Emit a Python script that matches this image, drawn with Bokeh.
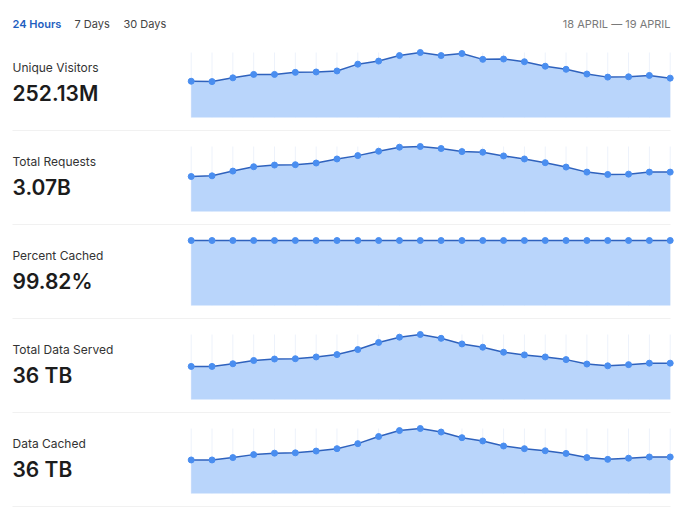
from bokeh.plotting import figure
from bokeh.layouts import column
from bokeh.models import Label, Range1d, BoxAnnotation
from bokeh.embed import file_html
from bokeh.resources import INLINE

hours = list(range(24))

visitors_m = [7.78, 7.70, 8.51, 9.24, 9.24, 9.68, 9.76, 9.98, 11.44, 12.10, 13.28, 13.94,
              13.28, 13.72, 12.47, 12.54, 11.96, 11.00, 10.34, 9.32, 8.66, 8.73, 9.02, 8.44]
requests_m = [91.7, 93.5, 105.9, 117.3, 121.7, 122.6, 127.0, 137.6, 146.4, 157.9, 168.5, 170.3,
              165.0, 157.0, 155.3, 145.6, 137.6, 127.9, 116.4, 103.2, 97.0, 97.9, 103.2, 103.2]
cached_pct = [99.82] * 24
served_tb = [1.12, 1.12, 1.21, 1.32, 1.37, 1.38, 1.44, 1.52, 1.69, 1.93, 2.11, 2.20,
             2.07, 1.88, 1.77, 1.60, 1.51, 1.44, 1.35, 1.20, 1.14, 1.18, 1.23, 1.23]
data_cached_tb = [1.13, 1.13, 1.21, 1.31, 1.36, 1.37, 1.43, 1.51, 1.68, 1.92, 2.12, 2.19,
                  2.07, 1.88, 1.77, 1.60, 1.51, 1.44, 1.35, 1.21, 1.15, 1.19, 1.23, 1.23]

titles = ["Unique Visitors", "Total Requests", "Percent Cached", "Total Data Served", "Data Cached"]
totals = ["252.13M", "3.07B", "99.82%", "36 TB", "36 TB"]
series = [visitors_m, requests_m, cached_pct, served_tb, data_cached_tb]

tabs = ["24 Hours", "7 Days", "30 Days"]
date_label = "18 APRIL \u2014 19 APRIL"

FONT = "Inter"
BOLD_FONT = "Inter SemiBold"
W = 676
ROW_H = 94
HEAD_H = 37
PX0, PX1 = 190.7, 669.7      # pixel position of first/last point in row
BOT_PX, TOP_PX = 14, 15      # pixels below zero line / above max
LEFT = 12

LINE = "#2f62bd"
DOT = "#4a8ef0"
FILL = "#b9d5fb"
GRID = "#edf2fb"
DIVIDER = "#e3e3e3"


def base_fig(h):
    p = figure(width=W, height=h, output_backend="svg", toolbar_location=None,
               min_border=0, min_border_left=0, min_border_right=0,
               min_border_top=0, min_border_bottom=0)
    p.axis.visible = False
    p.grid.visible = False
    p.outline_line_color = None
    p.background_fill_color = "white"
    p.border_fill_color = "white"
    return p


# header
head = base_fig(HEAD_H)
head.x_range = Range1d(0, W)
head.y_range = Range1d(0, HEAD_H)
tab_x = [LEFT, 74, 123]
for i, (t, tx) in enumerate(zip(tabs, tab_x)):
    head.add_layout(Label(x=tx, y=HEAD_H - 23, x_units="screen", y_units="screen", text=t,
                          text_font=BOLD_FONT if i == 0 else FONT, text_font_size="11px",
                          text_baseline="middle",
                          text_color="#1f5fbf" if i == 0 else "#444444"))
head.add_layout(Label(x=670, y=HEAD_H - 23, x_units="screen", y_units="screen", text=date_label,
                      text_font=FONT, text_font_size="11px", text_baseline="middle",
                      text_align="right", text_color="#7a7a7a"))

rows = [head]
n = len(hours)
step = (PX1 - PX0) / (n - 1)
for title, total, vals in zip(titles, totals, series):
    p = base_fig(ROW_H)
    vmax = max(vals)
    unit = vmax / (ROW_H - BOT_PX - TOP_PX)
    p.x_range = Range1d(hours[0] - PX0 / step, hours[-1] + (W - PX1) / step)
    p.y_range = Range1d(-BOT_PX * unit, vmax + TOP_PX * unit)
    p.segment(x0=hours, y0=[0] * n, x1=hours, y1=[vmax] * n, line_color=GRID, line_width=1)
    p.varea(x=hours, y1=[0] * n, y2=vals, fill_color=FILL, fill_alpha=1)
    p.line(hours, vals, line_color=LINE, line_width=1.5)
    p.scatter(hours, vals, size=6, fill_color=DOT, line_color=DOT)
    p.add_layout(Label(x=LEFT, y=ROW_H - 30, x_units="screen", y_units="screen", text=title,
                       text_font=FONT, text_font_size="12px", text_baseline="middle",
                       text_color="#333333"))
    p.add_layout(Label(x=LEFT, y=ROW_H - 56, x_units="screen", y_units="screen", text=total,
                       text_font=BOLD_FONT, text_font_size="21px", text_baseline="middle",
                       text_color="#1c1c1c"))
    p.add_layout(BoxAnnotation(left=LEFT, right=670, bottom=0, top=1,
                               left_units="screen", right_units="screen",
                               bottom_units="screen", top_units="screen",
                               fill_color=DIVIDER, fill_alpha=1, line_color=None))
    rows.append(p)

layout = column(*rows, spacing=0)
open("out.html", "w").write(file_html(layout, INLINE))
